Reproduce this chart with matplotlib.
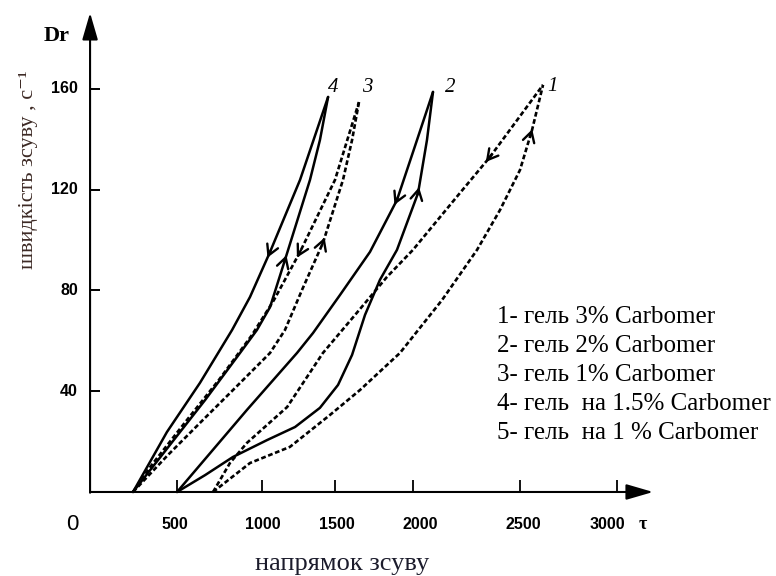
import numpy as np
from matplotlib import pyplot as plt

# flow curves: shear stress tau vs shear rate Dr
# each branch is listed from the origin up to its turning point

# 1 - dashed loop
c1_up_tau = [730, 938, 1163, 1389, 1558, 1783, 2020, 2217, 2347, 2459, 2527, 2589]
c1_up_dr = [0, 11.5, 17.9, 30.6, 40.5, 55.2, 76.2, 96.1, 112, 127.8, 143.7, 161.6]
c1_dn_tau = [730, 825, 921, 1147, 1349, 1530, 1710, 1856, 2121, 2290, 2589]
c1_dn_dr = [0, 11.5, 19.5, 33.7, 55.2, 70.3, 85.4, 96.1, 118.7, 133.0, 161.6]

# 2 - solid loop
c2_up_tau = [527, 685, 842, 1034, 1192, 1332, 1434, 1513, 1586, 1670, 1766, 1885, 1935, 1969]
c2_up_dr = [0, 6.7, 13.9, 20.6, 25.8, 33.4, 42.5, 54.4, 70.3, 84.2, 96.1, 118.7, 139.7, 158.8]
c2_dn_tau = [527, 921, 1203, 1293, 1445, 1614, 1766, 1868, 1969]
c2_dn_dr = [0, 32.6, 55.2, 63.1, 78.2, 95.3, 115.9, 137.4, 158.8]

# 3 - dashed loop
c3_up_tau = [279, 476, 673, 854, 1051, 1135, 1231, 1349, 1462, 1513, 1552]
c3_up_dr = [0, 14.7, 28.6, 41.3, 55.2, 64.3, 80.2, 98.9, 123.9, 139.7, 154.8]
c3_dn_tau = [279, 375, 583, 763, 949, 1073, 1220, 1417, 1552]
c3_dn_dr = [0, 9.9, 28.6, 44.5, 62.3, 76.2, 95.3, 123.9, 154.8]

# 4 - solid loop
c4_up_tau = [279, 487, 685, 882, 977, 1051, 1135, 1276, 1332, 1378]
c4_up_dr = [0, 18.7, 36.5, 55.2, 64.3, 73.4, 92.1, 123.9, 139.7, 156.8]
c4_dn_tau = [279, 470, 656, 837, 938, 1051, 1220, 1378]
c4_dn_dr = [0, 23.8, 43.3, 64.3, 77.4, 95.3, 123.9, 156.8]

# Dr level of the direction arrow on each branch
arrow_dr = {'1u': 142, '1d': 133, '2u': 119, '2d': 116,
            '3u': 99, '3d': 95, '4u': 92, '4d': 95}

curve_names = ['1', '2', '3', '4']
curve_name_tau = [2640, 2065, 1597, 1406]
curve_name_dr = [160.8, 160.4, 160.4, 160.4]

y_ticks = [40, 80, 120, 160]
x_tick_pos = [527, 1006, 1417, 1856, 2459, 3006]
x_tick_labels = ['500', '1000', '1500', '2000', '2500', '3000']
x_label_pos = [515, 1011, 1428, 1896, 2477, 2950]

legend_lines = ['1- гель 3% Carbomer',
                '2- гель 2% Carbomer',
                '3- гель 1% Carbomer',
                '4- гель  на 1.5% Carbomer',
                '5- гель  на 1 % Carbomer']

fig = plt.figure(figsize=(7.76, 5.76), dpi=100)
ax = fig.add_axes([0, 0, 1, 1])
ax.set_xlim(-470.4, 3901.4)
ax.set_ylim(-33.35, 195.3)
ax.axis('off')

serif = ['Liberation Serif', 'DejaVu Serif']
sans = ['Liberation Sans', 'DejaVu Sans']

solid = dict(color='black', lw=1.8, solid_capstyle='round', solid_joinstyle='round')
dashed = dict(color='black', lw=1.9, linestyle=(0, (1.8, 1.0)))

branches = {
    '1u': (c1_up_tau, c1_up_dr, dashed), '1d': (c1_dn_tau, c1_dn_dr, dashed),
    '2u': (c2_up_tau, c2_up_dr, solid), '2d': (c2_dn_tau, c2_dn_dr, solid),
    '3u': (c3_up_tau, c3_up_dr, dashed), '3d': (c3_dn_tau, c3_dn_dr, dashed),
    '4u': (c4_up_tau, c4_up_dr, solid), '4d': (c4_dn_tau, c4_dn_dr, solid),
}

for key, (tau, dr, style) in branches.items():
    ax.plot(tau, dr, **style)
    # little open arrowhead showing the sweep direction
    lvl = arrow_dr[key]
    if key.endswith('u'):
        tip, back = lvl + 2.0, lvl - 1.0
    else:
        tip, back = lvl - 2.0, lvl + 1.0
    ax.annotate('', xy=(np.interp(tip, dr, tau), tip),
                xytext=(np.interp(back, dr, tau), back),
                arrowprops=dict(arrowstyle='->,head_length=0.75,head_width=0.42',
                                color='black', lw=1.7, shrinkA=0, shrinkB=0))

for name, t, d in zip(curve_names, curve_name_tau, curve_name_dr):
    ax.text(t, d, name, family=serif, style='italic', fontsize=15,
            ha='center', va='center')

# hand-drawn axes with arrow tips
axis_arrow = dict(arrowstyle='-|>,head_length=0.55,head_width=0.16', mutation_scale=30,
                  color='black', lw=1.5, shrinkA=0, shrinkB=0)
ax.annotate('', xy=(37, 190.2), xytext=(37, -0.3), arrowprops=axis_arrow)
ax.annotate('', xy=(3209, 0), xytext=(37, 0), arrowprops=axis_arrow)

ax.hlines(y_ticks, 37, 93, color='black', lw=1.4)
ax.vlines(x_tick_pos, 0, 4.8, color='black', lw=1.3)

for v in y_ticks:
    ax.text(-31, v, str(v), family=sans, fontweight='bold', fontsize=11.5,
            ha='right', va='center')
for pos, lab in zip(x_label_pos, x_tick_labels):
    ax.text(pos, -13.1, lab, family=sans, fontweight='bold', fontsize=11.5,
            ha='center', va='center')
ax.text(-65, -13.1, '0', family=sans, fontsize=16, ha='center', va='center')
ax.text(3153, -13.1, 'τ', family=serif, fontweight='bold', fontsize=13,
        ha='center', va='center')
ax.text(-149, 181, 'Dr', family=serif, fontweight='bold', fontsize=16,
        ha='center', va='center')

ax.text(1459, -31.0, 'напрямок зсуву', family=serif, fontsize=19,
        color='#1c1c2c', ha='center', va='baseline')
ax.text(-285, 127.8, 'швидкість зсуву , с⁻¹', family=serif, fontsize=16,
        color='#3d2a25', rotation=90, rotation_mode='anchor',
        ha='center', va='baseline')

for i, line in enumerate(legend_lines):
    ax.text(2330, 69.5 - i * 11.55, line, family=serif, fontsize=18,
            ha='left', va='center')

fig.savefig('out.png', dpi=100)
